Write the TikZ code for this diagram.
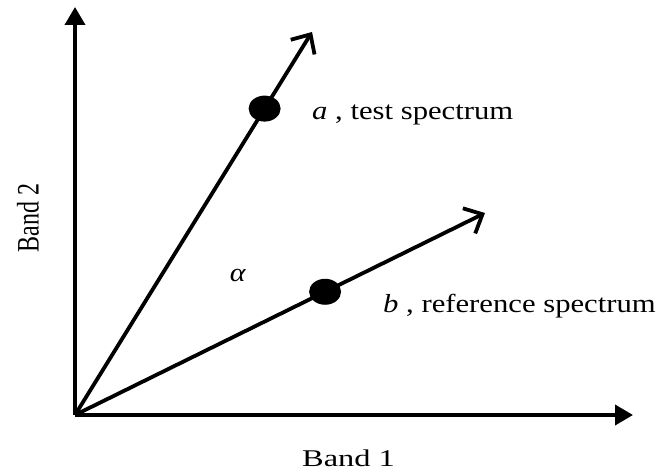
\documentclass[tikz,border=0pt]{standalone}
\usepackage{fontspec}
\usepackage{graphicx}
\setmainfont{Liberation Serif}
\usetikzlibrary{arrows.meta,shapes.geometric}
\tikzset{
  axisline/.style={line width=3.8pt, -{Triangle[length=18pt,width=20pt]}},
  vecline/.style={line width=3.8pt, -{Straight Barb[length=15pt,width=28pt,line width=3.8pt]}},
  spot/.style={ellipse, fill=black, draw=none, minimum width=32pt, minimum height=26pt, inner sep=0pt},
  veclabel/.style={font=\fontsize{26}{30}\selectfont, inner sep=0pt},
  axislabel/.style={font=\fontsize{24}{28}\selectfont, inner sep=0pt}
}
\begin{document}
\begin{tikzpicture}[x=1pt,y=-1pt]
\useasboundingbox (0,0) rectangle (659,470);
\coordinate (O) at (75,415);
\coordinate (ytip) at (75,7);
\coordinate (xtip) at (633,415);
\coordinate (atip) at (312,32);
\coordinate (btip) at (485,213);
\draw[axisline] (O) -- (ytip);
\draw[axisline] (O) -- (xtip);
\draw[vecline] (O) -- (atip);
\draw[vecline] (O) -- (btip);
\path (O) -- (atip) node[spot, pos=0.80] (dotA) {};
\path (O) -- (btip) node[spot, pos=0.61] (dotB) {};
\node[veclabel, anchor=base west] (labA) at (312,120) {\scalebox{1.18}[1]{\textit{a} , test spectrum}};
\node[veclabel, anchor=base west] (labB) at (383,313) {\scalebox{1.18}[1]{\textit{b} , reference spectrum}};
\node[veclabel] (alpha) at (238,276) {\scalebox{1.15}[1]{\textit{α}}};
\node[axislabel, anchor=base west] (band1) at (302,466) {\scalebox{1.35}[1]{Band 1}};
\node[axislabel, rotate=90] (band2) at (28,218) {\scalebox{1}[1.3]{Band 2}};
\end{tikzpicture}
\end{document}
